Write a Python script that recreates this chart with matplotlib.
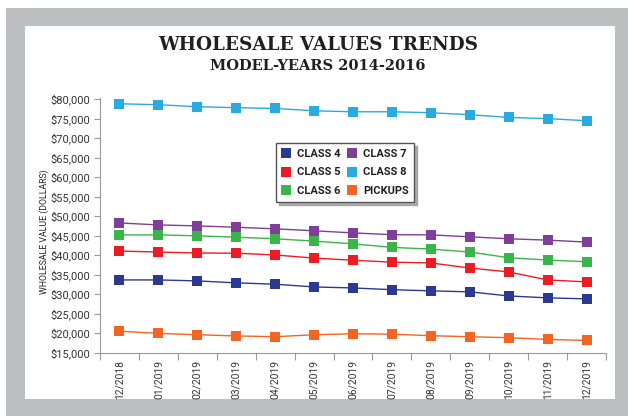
import matplotlib
matplotlib.use('Agg')
from matplotlib import pyplot as plt
from matplotlib.lines import Line2D
from matplotlib.patches import Rectangle
import numpy as np

months = ["12/2018", "01/2019", "02/2019", "03/2019", "04/2019", "05/2019", "06/2019",
          "07/2019", "08/2019", "09/2019", "10/2019", "11/2019", "12/2019"]

class4 = [33650, 33650, 33400, 32900, 32550, 31850, 31600, 31150, 30850, 30600, 29550, 29050, 28800]
class5 = [41050, 40800, 40550, 40500, 40050, 39250, 38700, 38200, 38000, 36700, 35700, 33650, 33150]
class6 = [45200, 45200, 44950, 44600, 44200, 43600, 42900, 42000, 41550, 40800, 39350, 38750, 38300]
class7 = [48250, 47750, 47500, 47150, 46750, 46250, 45700, 45250, 45200, 44700, 44200, 43850, 43350]
class8 = [78800, 78550, 78050, 77800, 77600, 77000, 76750, 76750, 76500, 76000, 75300, 75000, 74450]
pickups = [20500, 19950, 19600, 19300, 19100, 19600, 19850, 19750, 19350, 19100, 18850, 18400, 18150]

series_names = ["CLASS 4", "CLASS 5", "CLASS 6", "CLASS 7", "CLASS 8", "PICKUPS"]
series_vals = [class4, class5, class6, class7, class8, pickups]
colors = ["#2b3990", "#ed1c24", "#39b54a", "#7f3f98", "#29abe2", "#f26522"]

yticks = list(range(15000, 80001, 5000))

sans = 'Roboto'
W, H = 628, 416

fig = plt.figure(figsize=(6.28, 4.16), dpi=100)
fig.patch.set_facecolor('white')
# gray frame + white panel
fig.patches.append(Rectangle((6 / W, 0), 1 - 6 / W, 1 - 8 / H, transform=fig.transFigure,
                             facecolor='#bcbec0', edgecolor='none', zorder=-3))
fig.patches.append(Rectangle((25 / W, 1 - 399 / H), (615 - 25) / W, (399 - 26) / H,
                             transform=fig.transFigure, facecolor='white', edgecolor='none', zorder=-2))

ax = fig.add_axes([100 / W, 1 - 352.7 / H, (606 - 100) / W, (352.7 - 98.5) / H])
ax.set_facecolor('none')

x = np.arange(len(months))
for vals, c in zip(series_vals, colors):
    ax.plot(x, vals, color=c, lw=1.0, marker='s', markersize=6.5, markeredgewidth=0, zorder=3)

ax.set_xlim(-0.5, len(months) - 0.5)
ax.set_ylim(15000, 80150)
ax.set_yticks(yticks)
ax.set_yticklabels(['${:,}'.format(v) for v in yticks], family=sans, fontsize=8, color='#333333')
ax.set_xticks(x)
ax.set_xticklabels(months, rotation=90, family=sans, fontsize=7.4, color='#333333')
ax.set_xticks(np.arange(-0.5, len(months)), minor=True)
ax.tick_params(axis='x', which='major', length=0, pad=5)
ax.tick_params(axis='x', which='minor', length=5, color='#999999', width=0.8)
ax.tick_params(axis='y', length=4, color='#999999', width=0.8, pad=3)

for s in ['top', 'right']:
    ax.spines[s].set_visible(False)
for s in ['left', 'bottom']:
    ax.spines[s].set_color('#999999')
    ax.spines[s].set_linewidth(0.8)

fig.text(44 / W, 1 - 232 / H, 'WHOLESALE VALUE (DOLLARS)', rotation=90, ha='center', va='center',
         family=sans, fontsize=6.3, color='#222222')

fig.text(0.506, 1 - 45 / H, 'WHOLESALE VALUES TRENDS', ha='center', va='center',
         family='DejaVu Serif', weight='bold', fontsize=13.2, color='#231f20')
fig.text(0.506, 1 - 65.5 / H, 'MODEL-YEARS 2014-2016', ha='center', va='center',
         family='DejaVu Serif', weight='bold', fontsize=10.5, color='#231f20')

handles = [Line2D([], [], marker='s', ls='none', color=c, markersize=7, markeredgewidth=0)
           for c in colors]
leg = ax.legend(handles, series_names, ncol=2, loc='upper left', bbox_to_anchor=(0.348, 0.825),
                borderaxespad=0, frameon=True, fancybox=False,
                shadow={'color': '#999999', 'alpha': 0.8},
                prop={'family': sans, 'weight': 'bold', 'size': 8},
                handlelength=0.8, handletextpad=0.6, columnspacing=0.6, labelspacing=0.8,
                borderpad=0.5)
leg.get_frame().set_edgecolor('#555555')
leg.get_frame().set_linewidth(1.0)
for t in leg.get_texts():
    t.set_color('#231f20')

fig.savefig('out.png', dpi=100)
